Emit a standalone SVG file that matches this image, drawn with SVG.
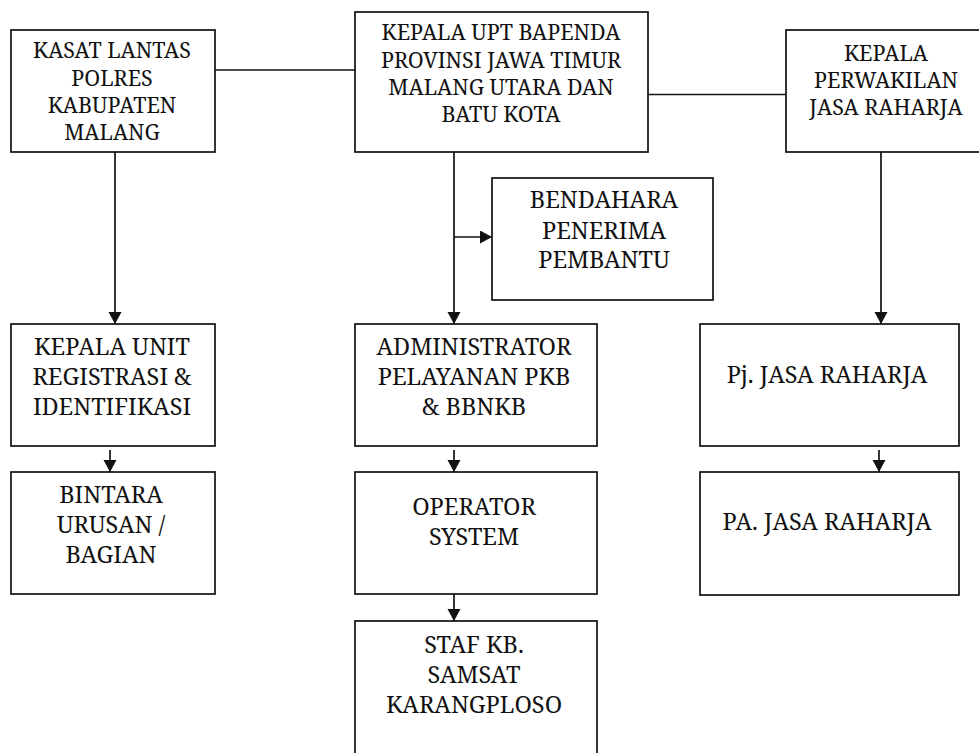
<svg xmlns="http://www.w3.org/2000/svg" width="979" height="753" viewBox="0 0 979 753">
<style>
.box{fill:#fff;stroke:#111;stroke-width:1.7}
.ln{fill:none;stroke:#111;stroke-width:1.7}
.t text{fill:#111;text-anchor:middle}
.s{font-size:21.5px}
.m{font-size:23.5px}
</style>
<defs>
<marker id="ah" markerUnits="userSpaceOnUse" markerWidth="14" markerHeight="14" refX="12" refY="6.5" orient="auto">
<path d="M0,0 L12,6.5 L0,13 Z" fill="#111"/>
</marker>
</defs>
<rect width="979" height="753" fill="#fff"/>
<g id="connectors">
<line class="ln" x1="215" y1="70" x2="355" y2="70"/>
<line class="ln" x1="648" y1="94.5" x2="786" y2="94.5"/>
<line class="ln" x1="115" y1="152" x2="115" y2="324" marker-end="url(#ah)"/>
<line class="ln" x1="454" y1="152" x2="454" y2="324" marker-end="url(#ah)"/>
<line class="ln" x1="454" y1="237" x2="492" y2="237" marker-end="url(#ah)"/>
<line class="ln" x1="881" y1="152" x2="881" y2="324" marker-end="url(#ah)"/>
<line class="ln" x1="110" y1="450" x2="110" y2="472" marker-end="url(#ah)"/>
<line class="ln" x1="454" y1="450" x2="454" y2="472" marker-end="url(#ah)"/>
<line class="ln" x1="454" y1="594" x2="454" y2="621" marker-end="url(#ah)"/>
<line class="ln" x1="879" y1="450" x2="879" y2="472" marker-end="url(#ah)"/>
</g>
<g class="t" font-family="'Noto Serif', 'DejaVu Serif', serif">
<g id="kasat">
<rect class="box" x="11" y="30" width="204" height="122"/>
<text class="s" x="112" y="58">KASAT LANTAS</text>
<text class="s" x="112" y="86">POLRES</text>
<text class="s" x="112" y="113">KABUPATEN</text>
<text class="s" x="112" y="140">MALANG</text>
</g>
<g id="kepala-upt">
<rect class="box" x="355" y="12" width="293" height="140"/>
<text class="s" x="501" y="40">KEPALA UPT BAPENDA</text>
<text class="s" x="501" y="67.5">PROVINSI JAWA TIMUR</text>
<text class="s" x="501" y="95">MALANG UTARA DAN</text>
<text class="s" x="501" y="122">BATU KOTA</text>
</g>
<g id="kepala-perwakilan">
<rect class="box" x="786" y="30" width="200" height="122"/>
<text class="s" x="886" y="60.5">KEPALA</text>
<text class="s" x="886" y="87.5">PERWAKILAN</text>
<text class="s" x="886" y="114.5">JASA RAHARJA</text>
</g>
<g id="bendahara">
<rect class="box" x="492" y="178" width="221" height="122"/>
<text class="m" x="604" y="208">BENDAHARA</text>
<text class="m" x="604" y="239">PENERIMA</text>
<text class="m" x="604" y="268">PEMBANTU</text>
</g>
<g id="kepala-unit">
<rect class="box" x="11" y="324" width="204" height="122"/>
<text class="m" x="112" y="355">KEPALA UNIT</text>
<text class="m" x="112" y="385">REGISTRASI &amp;</text>
<text class="m" x="112" y="415">IDENTIFIKASI</text>
</g>
<g id="bintara">
<rect class="box" x="11" y="472" width="204" height="122"/>
<text class="m" x="111" y="503">BINTARA</text>
<text class="m" x="111" y="533">URUSAN /</text>
<text class="m" x="111" y="563">BAGIAN</text>
</g>
<g id="administrator">
<rect class="box" x="355" y="324" width="242" height="122"/>
<text class="m" x="474" y="355">ADMINISTRATOR</text>
<text class="m" x="474" y="385">PELAYANAN PKB</text>
<text class="m" x="474" y="415">&amp; BBNKB</text>
</g>
<g id="operator">
<rect class="box" x="355" y="472" width="242" height="122"/>
<text class="m" x="474" y="515">OPERATOR</text>
<text class="m" x="474" y="545">SYSTEM</text>
</g>
<g id="staf">
<rect class="box" x="355" y="621" width="242" height="140"/>
<text class="m" x="474" y="653">STAF KB.</text>
<text class="m" x="474" y="683">SAMSAT</text>
<text class="m" x="474" y="713">KARANGPLOSO</text>
</g>
<g id="pj">
<rect class="box" x="700" y="324" width="259" height="122"/>
<text class="m" x="827" y="383">Pj. JASA RAHARJA</text>
</g>
<g id="pa">
<rect class="box" x="700" y="472" width="259" height="123"/>
<text class="m" x="827" y="530">PA. JASA RAHARJA</text>
</g>
</g>
</svg>
